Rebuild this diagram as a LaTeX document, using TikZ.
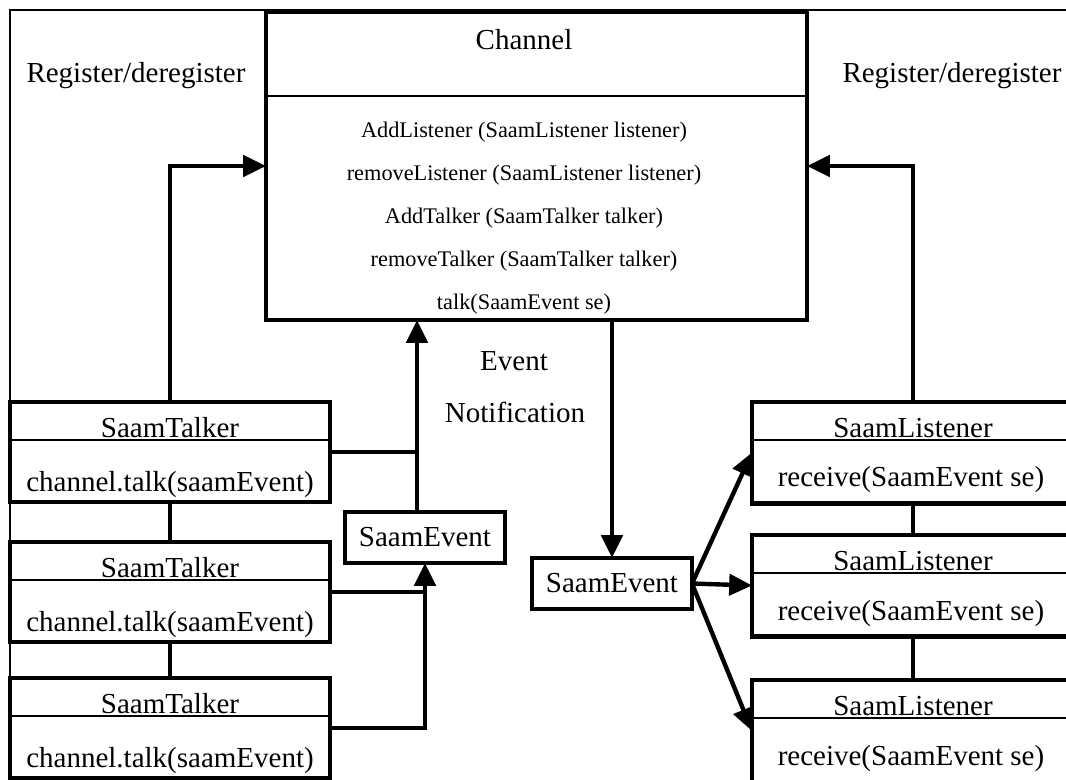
\documentclass[tikz,border=0pt]{standalone}
\usepackage{fontspec}
\setmainfont{Liberation Serif}
\usetikzlibrary{arrows.meta}

\tikzset{
  outerframe/.style={line width=0.8pt},
  umlbox/.style={draw, line width=2.3pt, inner sep=0pt, outer sep=0pt},
  divider/.style={line width=1pt},
  conn/.style={line width=2.5pt},
  arr/.style={conn, -{Triangle[length=13pt,width=12pt]}},
  bigtext/.style={font=\fontsize{16.5}{19}\selectfont, inner sep=0pt},
  methodtext/.style={font=\fontsize{12.7}{15}\selectfont, inner sep=0pt},
}

\begin{document}
\begin{tikzpicture}[x=0.02cm, y=-0.02cm]
\useasboundingbox (0,0) rectangle (1066,779);
\clip (0,0) rectangle (1066,779);
\draw[outerframe] (10,10) rectangle (1090,800);

% channel class
\node[umlbox, minimum width=10.82cm, minimum height=6.16cm] (channel) at (536.5,166) {};
\draw[divider] (channel.west |- 0,96) -- (channel.east |- 0,96);
\node[bigtext, anchor=base] (chname) at (524,49) {Channel};
\foreach \m [count=\i] in {AddListener (SaamListener listener), removeListener (SaamListener listener), AddTalker (SaamTalker talker), removeTalker (SaamTalker talker), talk(SaamEvent se)}
  \node[methodtext, anchor=base] (m\i) at (524,{137+43.2*(\i-1)}) {\m};

% talkers
\foreach \t/\y/\d in {A/452/440, B/592/580, C/728/716} {
  \node[umlbox, minimum width=6.4cm, minimum height=2cm] (talk\t) at (170,\y) {};
  \draw[divider] (talk\t.west |- 0,\d) -- (talk\t.east |- 0,\d);
  \node[bigtext, anchor=base] (talk\t name) at (170,\d-3) {SaamTalker};
  \node[bigtext, anchor=base] (talk\t op) at (170,\y+39) {channel.talk(saamEvent)};
}

% listeners
\foreach \l/\y/\d/\b in {A/452.5/440/486, B/585.5/573/620, C/731/718/765} {
  \node[umlbox, minimum width=6.44cm, minimum height=2.04cm] (lis\l) at (913,\y) {};
  \draw[divider] (lis\l.west |- 0,\d) -- (lis\l.east |- 0,\d);
  \node[bigtext, anchor=base] (lis\l name) at (913,\d-3) {SaamListener};
  \node[bigtext, anchor=base] (lis\l op) at (911,\b) {receive(SaamEvent se)};
}

% events
\node[umlbox, bigtext, minimum width=3.2cm, minimum height=1.02cm] (evL) at (425,537.5) {SaamEvent};
\node[umlbox, bigtext, minimum width=3.2cm, minimum height=1.02cm] (evR) at (612,583.5) {SaamEvent};

% labels
\node[bigtext, anchor=base] (regL) at (136,82) {Register/deregister};
\node[bigtext, anchor=base] (regR) at (952,82) {Register/deregister};
\node[bigtext, anchor=base] (evlab) at (514,370) {Event};
\node[bigtext, anchor=base] (notlab) at (515,422) {Notification};

% connectors
\draw[arr] (talkA.north) |- (channel.west);
\draw[arr] (lisA.north) |- (channel.east);
\coordinate (up) at ([xshift=-0.16cm]evL.north);
\draw[arr] (up) -- (up |- channel.south);
\draw[conn] (talkA.east) -- (talkA.east -| up);
\draw[arr] (talkC.east) -| (evL.south);
\draw[conn] (talkB.east) -- (talkB.east -| evL.south);
\draw[arr] (channel.south -| evR.north) -- (evR.north);
\draw[arr] (evR.east) -- (lisA.west);
\draw[arr] (evR.east) -- (lisB.west);
\draw[arr] (evR.east) -- (lisC.west);
\draw[conn] (talkA.south) -- (talkB.north);
\draw[conn] (talkB.south) -- (talkC.north);
\draw[conn] (lisA.south) -- (lisB.north);
\draw[conn] (lisB.south) -- (lisC.north);
\end{tikzpicture}
\end{document}
